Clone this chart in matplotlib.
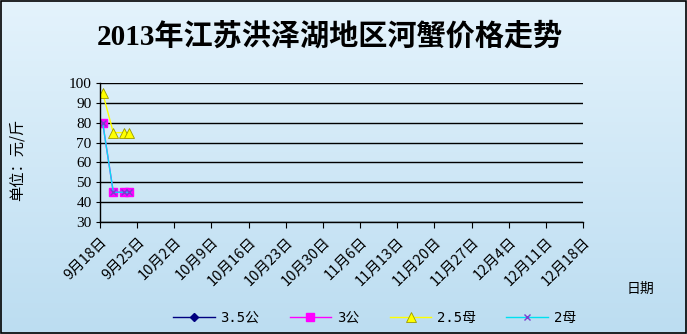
import numpy as np
import matplotlib
matplotlib.use('Agg')
import matplotlib.pyplot as plt
import matplotlib.dates as mdates
from datetime import date, timedelta

# data
series_names = ['3.5公', '3公', '2.5母', '2母']
obs_dates = [date(2013, 9, 18), date(2013, 9, 20), date(2013, 9, 22), date(2013, 9, 23)]
price_35m = []                     # no values plotted
price_3m = [80, 45, 45, 45]
price_25f = [95, 75, 75, 75]
price_2f = [80, 45, 45, 45]

tick_dates = [date(2013, 9, 18) + timedelta(days=7 * i) for i in range(14)]
tick_labels = [f'{d.month}月{d.day}日' for d in tick_dates]
y_ticks = [30, 40, 50, 60, 70, 80, 90, 100]

cjk = ['Noto Sans CJK SC', 'DejaVu Sans']
serif_cjk = ['Liberation Serif', 'Noto Sans CJK SC']
mono_cjk = ['DejaVu Sans Mono', 'Noto Sans CJK SC']

fig = plt.figure(figsize=(6.87, 3.34), dpi=100)

# gradient background
bg = fig.add_axes([0, 0, 1, 1], zorder=-10)
grad = np.linspace(0, 1, 256).reshape(-1, 1)
top = np.array([228, 243, 252]) / 255
bot = np.array([188, 221, 241]) / 255
img = top + (bot - top) * grad[..., None]
bg.imshow(np.repeat(img, 2, axis=1), aspect='auto', extent=[0, 1, 0, 1])
bg.set_xlim(0, 1)
bg.set_ylim(0, 1)
bg.axis('off')
bg.add_patch(plt.Rectangle((0.001, 0.002), 0.997, 0.995, fill=False, ec='black', lw=1.2))

ax = fig.add_axes([0.1456, 0.3353, 0.7030, 0.4162])
ax.patch.set_alpha(0)

xd = mdates.date2num(obs_dates) + 0.5  # points sit mid-day like Excel
ax.plot([], [], color='#000080', marker='D', ms=4, lw=1, label=series_names[0])
ax.plot(xd, price_3m, color='#FF00FF', marker='s', ms=5.5, lw=1, label=series_names[1])
ax.plot(xd, price_25f, color='#FFFF00', marker='^', ms=6.5, mec='#9a9a00', mew=0.6, lw=1,
        label=series_names[2])
ax.plot(xd, price_2f, color='#00E0F0', marker='x', ms=5, mec='#7a3fd0', lw=1, label=series_names[3])

ax.set_xlim(mdates.date2num(tick_dates[0]), mdates.date2num(tick_dates[-1]))
ax.set_ylim(30, 100)
ax.set_yticks(y_ticks)
ax.set_yticklabels([str(v) for v in y_ticks], family=serif_cjk, fontsize=11)
ax.set_xticks(mdates.date2num(tick_dates))
ax.set_xticklabels(tick_labels, rotation=45, ha='right', va='top', family=cjk, fontsize=10.5,
                   rotation_mode='anchor')
ax.tick_params(axis='x', direction='out', length=4, color='black', pad=5)
ax.tick_params(axis='y', direction='out', length=3, color='black', pad=3)
ax.grid(axis='y', color='black', lw=1)
for s in ['top', 'right']:
    ax.spines[s].set_visible(False)
ax.spines['left'].set_linewidth(1)
ax.spines['bottom'].set_linewidth(1)

fig.text(0.48, 0.89, '2013年江苏洪泽湖地区河蟹价格走势', ha='center', va='center',
         family=serif_cjk, fontsize=21, fontweight='bold')
fig.text(0.025, 0.52, '单位：元/斤', rotation=90, ha='center', va='center',
         family=cjk, fontsize=11)
fig.text(0.932, 0.135, '日期', ha='center', va='center', family=cjk, fontsize=10)

fig.legend(loc='center', bbox_to_anchor=(0.545, 0.048), ncol=4, frameon=False,
           handlelength=3, columnspacing=2.2, handletextpad=0.4,
           prop={'family': mono_cjk, 'size': 10})

fig.savefig('out.png', dpi=100)
